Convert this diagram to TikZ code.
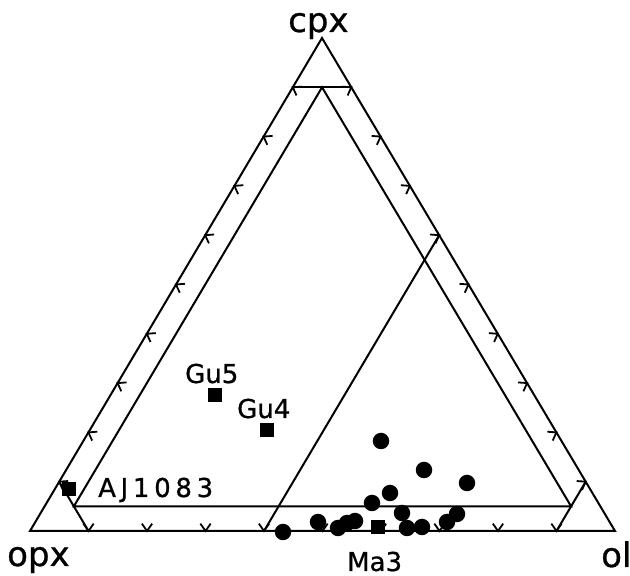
\documentclass[tikz,border=0pt]{standalone}
\usepackage{fontspec}
\setmainfont{DejaVu Sans}[FakeBold=0.8]
\usetikzlibrary{calc}
\begin{document}
\begin{tikzpicture}[x=1pt,y=1pt,
  edge/.style={line width=2pt, line join=miter, line cap=butt},
  chev/.style={line width=1.8pt},
  sq/.style={fill=black, rectangle, minimum size=14pt, inner sep=0pt, draw=none},
  dot/.style={fill=black, circle, minimum size=16.5pt, inner sep=0pt, draw=none},
  corner/.style={font=\fontsize{34}{34}\selectfont, inner sep=0pt, anchor=base west},
  lab/.style={font=\fontsize{26}{26}\selectfont, inner sep=0pt, anchor=base west}]
\useasboundingbox (0,0) rectangle (630,576);
% vertices
\coordinate (O) at (30,45);
\coordinate (C) at (322,538);
\coordinate (L) at (615,45);
% outer triangle
\draw[edge] (O) -- (C) -- (L) -- cycle;
% 5% inner triangle
\coordinate (A1) at (barycentric cs:O=0.9,C=0.05,L=0.05);
\coordinate (A2) at (barycentric cs:O=0.05,C=0.9,L=0.05);
\coordinate (A3) at (barycentric cs:O=0.05,C=0.05,L=0.9);
\draw[edge] (A1) -- (A2) -- (A3) -- cycle;
% 90% lines
\coordinate (c90l) at (barycentric cs:O=0.1,C=0.9);
\coordinate (c90r) at (barycentric cs:C=0.9,L=0.1);
\coordinate (o90b) at (barycentric cs:O=0.9,L=0.1);
\coordinate (o90l) at (barycentric cs:O=0.9,C=0.1);
\coordinate (l90b) at (barycentric cs:O=0.1,L=0.9);
\coordinate (l90r) at (barycentric cs:C=0.1,L=0.9);
\draw[edge] (c90l) -- (c90r);
\draw[edge] (o90b) -- (o90l);
\draw[edge] (l90b) -- (l90r);
% 40% olivine line
\coordinate (l40b) at (barycentric cs:O=0.6,L=0.4);
\coordinate (l40r) at (barycentric cs:C=0.6,L=0.4);
\draw[edge] (l40b) -- (l40r);
% chevrons on the edges
\foreach \k in {1,...,9}{
  \pgfmathsetmacro\wa{\k/10}
  \pgfmathsetmacro\wb{1-\k/10}
  \path (barycentric cs:O=\wa,L=\wb) coordinate (tb);
  \draw[chev] (tb) ++(55:9) -- (tb) -- ++(125:9);
  \path (barycentric cs:O=\wa,C=\wb) coordinate (tl);
  \draw[chev] (tl) ++(294.4:9) -- (tl) -- ++(4.4:9);
  \path (barycentric cs:L=\wa,C=\wb) coordinate (tr);
  \draw[chev] (tr) ++(175.7:9) -- (tr) -- ++(245.7:9);
}
% data: squares
\node[sq] (sAJ) at (69,87) {};
\node[sq] (sGu5) at (215,181) {};
\node[sq] (sGu4) at (267,146) {};
\node[sq] (sMa3) at (378,49) {};
% data: circles
\foreach \p [count=\i] in {(283,44),(318,54),(338,48),(347,53),(355,55),(372,73),(390,83),(402,63),(407,48),(422,49),(447,54),(457,62),(381,135),(424,106),(467,93)}{
  \node[dot] (d\i) at \p {};
}
% labels
\node[corner] (lcpx) at (288,544) {cpx};
\node[corner] (lopx) at (7,10) {opx};
\node[corner] (lol) at (601,9) {ol};
\node[lab] (lMa3) at (347,5) {Ma3};
\node[lab] (lAJ) at (98,79) {\addfontfeature{LetterSpace=18}AJ1083};
\node[lab] (lGu5) at (185,193) {Gu5};
\node[lab] (lGu4) at (237,158) {Gu4};
\end{tikzpicture}
\end{document}
